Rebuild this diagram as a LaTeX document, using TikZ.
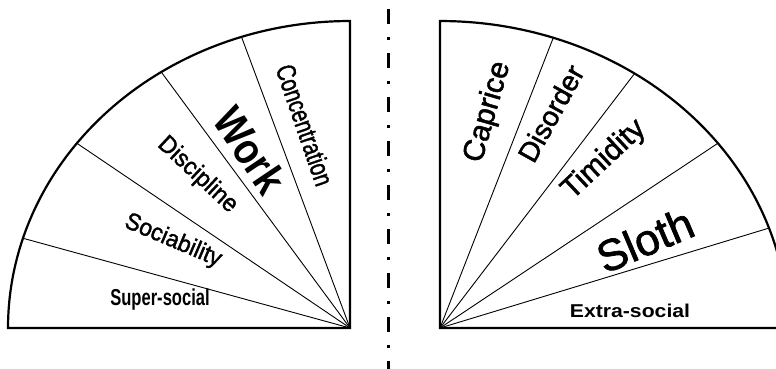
\documentclass[tikz,border=0pt]{standalone}
\usepackage{fontspec}
\setmainfont{Liberation Sans}
\newfontfamily\medfont[FakeBold=1.6]{Liberation Sans}
\newcommand{\hsc}[2]{\scalebox{#1}[1]{#2}}
\begin{document}
\begin{tikzpicture}[x=1pt,y=-1pt,
  outline/.style={line width=2.2pt},
  spoke/.style={line width=0.9pt},
  lab/.style={inner sep=0pt},
  dashdot/.style={line width=3pt,dash pattern=on 15pt off 13pt on 3pt off 13pt}]
\useasboundingbox (0,0) rectangle (776,368);
\clip (0,0) rectangle (776,368);
% left fan
\coordinate (Lc) at (350,328);
\coordinate (Ltop) at (350,21);
\coordinate (Lleft) at (8,328);
\foreach \n/\a in {1/17,2/37,3/56.5,4/71.5}{
  \coordinate (L\n) at ({350-342*cos(\a)},{328-307*sin(\a)});
  \draw[spoke] (Lc) -- (L\n);
}
\draw[outline] (Lc) -- (Lleft) -- plot[domain=0:90,samples=120] ({350-342*cos(\x)},{328-307*sin(\x)}) -- cycle;
% right fan
\coordinate (Rc) at (440,328);
\coordinate (Rtop) at (440,21);
\foreach \n/\a in {1/71,2/56,3/37,4/19}{
  \coordinate (R\n) at ({440+348*cos(\a)},{328-307*sin(\a)});
  \draw[spoke] (Rc) -- (R\n);
}
\draw[outline] (Rc) -- (Rtop) -- plot[domain=90:0,samples=120] ({440+348*cos(\x)},{328-307*sin(\x)}) -- cycle;
% divider
\coordinate (Dtop) at (388,9);
\coordinate (Dbot) at (388,380);
\draw[dashdot] (Dtop) -- (Dbot);
% left labels
\node[lab,anchor=base,font=\fontsize{23}{23}\selectfont\bfseries] (ss) at (160,305) {\hsc{0.72}{Super-social}};
\node[lab,rotate=-23,font=\fontsize{24}{24}\selectfont\medfont] (soc) at (173,241) {\hsc{0.95}{Sociability}};
\node[lab,rotate=-43,font=\fontsize{24.5}{24.5}\selectfont\medfont] (dis) at (197.5,175) {\hsc{0.95}{Discipline}};
\node[lab,rotate=-56,font=\fontsize{44}{44}\selectfont\bfseries] (work) at (250,150) {\hsc{0.85}{Work}};
\node[lab,rotate=-71,font=\fontsize{27}{27}\selectfont\medfont] (conc) at (305,125) {\hsc{0.75}{Concentration}};
% right labels
\node[lab,rotate=74,font=\fontsize{30}{30}\selectfont\medfont] (cap) at (488,112) {Caprice};
\node[lab,rotate=61,font=\fontsize{28}{28}\selectfont\medfont] (dso) at (550.8,113.3) {Disorder};
\node[lab,rotate=43,font=\fontsize{30}{30}\selectfont\medfont] (tim) at (604.2,160) {Timidity};
\node[lab,rotate=23,font=\fontsize{44}{44}\selectfont\medfont] (slo) at (645,240) {Sloth};
\node[lab,anchor=base,font=\fontsize{18.6}{18.6}\selectfont\bfseries] (xs) at (630,317) {\hsc{1.14}{Extra-social}};
\end{tikzpicture}
\end{document}
